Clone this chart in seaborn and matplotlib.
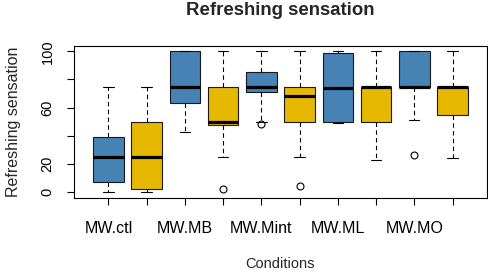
# Refreshing sensation boxplot, R-style look rebuilt with seaborn

import pandas as pd
import matplotlib
matplotlib.use("Agg")
import matplotlib.pyplot as plt
import seaborn as sns

# box positions, left to right (blue/yellow pairs per condition)
groups = ["MW.ctl", "MW.ctl.b", "MW.MB", "MW.MB.b", "MW.Mint",
          "MW.Mint.b", "MW.ML", "MW.ML.b", "MW.MO", "MW.MO.b"]
tick_labels = ["MW.ctl", "", "MW.MB", "", "MW.Mint", "", "MW.ML", "", "MW.MO", ""]
box_colors = ["#4682B4", "#E7B800"] * 5

# five-number summaries
whisk_lo = [0, 0, 43, 25, 50, 25, 49, 23, 51, 24]
q1 = [7, 2, 63, 48, 71, 50, 50, 50, 75, 54.5]
median = [25, 25, 75, 50, 75, 68.5, 74, 75, 75, 75]
q3 = [39, 50, 100, 75, 85.5, 75, 99, 75, 100, 75]
whisk_hi = [75, 75, 100, 100, 100, 100, 100, 100, 100, 100]
outlier = [None, None, None, 2, 48.5, 4, None, None, 26, None]


def main():
    # small sample per box that reproduces the summary exactly (n=9)
    rows = []
    for i, g in enumerate(groups):
        first = whisk_lo[i] if outlier[i] is None else outlier[i]
        vals = [first, whisk_lo[i], q1[i], median[i], median[i],
                q3[i], q3[i], whisk_hi[i], whisk_hi[i]]
        for v in vals:
            rows.append({"cond": g, "value": v})
    df = pd.DataFrame(rows)

    sns.set_theme(style="ticks")
    plt.rcParams["font.family"] = ["Liberation Sans", "DejaVu Sans"]
    plt.rcParams["axes.linewidth"] = 0.8
    plt.rcParams["xtick.major.size"] = 5
    plt.rcParams["ytick.major.size"] = 5
    plt.rcParams["xtick.major.width"] = 0.8
    plt.rcParams["ytick.major.width"] = 0.8

    fig, ax = plt.subplots(figsize=(4.89, 2.73), dpi=100)
    fig.subplots_adjust(left=0.1513, right=0.9959, top=0.8326, bottom=0.2758)

    sns.boxplot(data=df, x="cond", y="value", hue="cond", order=groups,
                palette=box_colors, saturation=1, width=0.8, legend=False,
                linecolor="#1a1a1a", linewidth=0.8, fliersize=5,
                capwidths=0.27,
                medianprops={"color": "black", "linewidth": 2.3},
                whiskerprops={"linestyle": (0, (4, 3)), "color": "black"},
                capprops={"color": "black"},
                flierprops={"marker": "o", "markerfacecolor": "none",
                            "markeredgecolor": "black", "markeredgewidth": 0.8},
                ax=ax)

    ax.set_xlim(-0.9, 9.9)
    ax.set_ylim(-4, 104)
    ax.set_xticks(range(len(groups)))
    ax.set_xticklabels(tick_labels, fontsize=11.5)
    ax.set_yticks([0, 20, 40, 60, 80, 100])
    ax.set_yticklabels(["0", "20", "", "60", "", "100"], fontsize=10.5,
                       rotation=90, va="center")
    ax.tick_params(axis="x", pad=12, colors="black")
    ax.tick_params(axis="y", pad=9, colors="black")
    for s in ax.spines.values():
        s.set_color("black")

    ax.set_xlabel("Conditions", fontsize=10.5, labelpad=15)
    ax.set_ylabel("Refreshing sensation", fontsize=11.5, labelpad=14)
    ax.set_title("Refreshing sensation", fontsize=13.4, fontweight="bold", pad=22)

    fig.savefig("out.png", dpi=100)


if __name__ == "__main__":
    main()
